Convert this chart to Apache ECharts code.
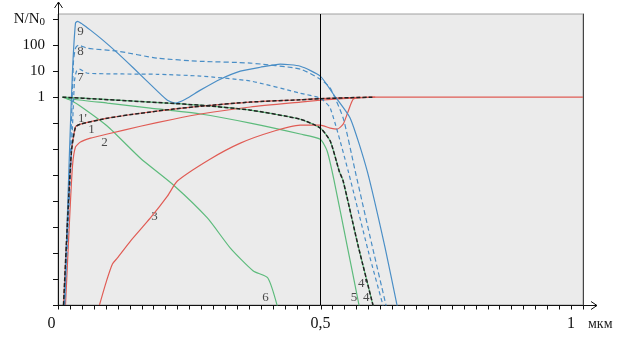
<!DOCTYPE html>
<html>
<head>
<meta charset="utf-8">
<script src="https://cdn.jsdelivr.net/npm/echarts@6/dist/echarts.min.js"></script>
<style>
  html, body { margin: 0; padding: 0; background: #fff; }
  #chart { width: 624px; height: 342px; }
</style>
</head>
<body>
<div id="chart"></div>
<script>
// x - глубина, мкм ; lg - log10(N/N0)
const x9  = [0.0124, 0.0219, 0.0276, 0.0333, 0.0371, 0.0466, 0.0618, 0.0809, 0.1094, 0.1437, 0.1893, 0.2084, 0.2236, 0.2426, 0.2712, 0.3092, 0.3473, 0.3854, 0.4234, 0.4615, 0.4995, 0.5243, 0.5566, 0.5890, 0.6232, 0.6461];
const lg9 = [-8, -2.08, 1.0, 2.85, 2.92, 2.81, 2.58, 2.27, 1.77, 1.12, 0.23, -0.12, -0.23, -0.08, 0.27, 0.69, 1.0, 1.15, 1.27, 1.19, 0.81, 0.12, -0.81, -2.85, -5.81, -8.04];

const x8  = [0.0124, 0.0238, 0.0295, 0.0333, 0.039, 0.0561, 0.1132, 0.1893, 0.2712, 0.3663, 0.4615, 0.4995, 0.5185, 0.5432, 0.5661, 0.5985, 0.6251];
const lg8 = [-8, -2.08, 1.38, 1.88, 2.0, 1.88, 1.77, 1.5, 1.38, 1.31, 1.08, 0.69, 0.35, -0.81, -2.85, -5.73, -8.04];

const x7  = [0.0124, 0.0257, 0.0314, 0.0352, 0.0409, 0.0561, 0.1893, 0.2712, 0.3663, 0.4615, 0.4995, 0.5185, 0.5528, 0.5909, 0.6194];
const lg7 = [-8, -2.08, 0.62, 1.0, 1.08, 0.92, 0.88, 0.81, 0.62, 0.15, -0.04, -0.42, -2.85, -5.92, -8.04];

const x1  = [0.0105, 0.0181, 0.0257, 0.0333, 0.0428, 0.0942, 0.157, 0.2198, 0.2712, 0.3663, 0.4615, 0.4995, 0.5566, 0.6004, 1.0];
const lg1 = [-8, -4.77, -2.08, -1.15, -1.04, -0.81, -0.62, -0.46, -0.35, -0.19, -0.1, -0.06, -0.02, 0, 0];

const x2  = [0.0143, 0.0219, 0.0276, 0.0333, 0.0428, 0.0618, 0.0942, 0.157, 0.2198, 0.2712, 0.3663, 0.4615, 0.4995, 0.5566, 0.6042];
const lg2 = [-8, -4.77, -2.65, -1.92, -1.73, -1.58, -1.42, -1.12, -0.85, -0.65, -0.38, -0.19, -0.12, -0.04, 0];

const x3  = [0.079, 0.0923, 0.1037, 0.1132, 0.138, 0.176, 0.2084, 0.2274, 0.2902, 0.3473, 0.4044, 0.4615, 0.4995, 0.5185, 0.5318, 0.5432, 0.5528, 0.5623, 0.5756];
const lg3 = [-8, -7.08, -6.42, -6.19, -5.54, -4.65, -3.81, -3.23, -2.38, -1.77, -1.35, -1.08, -1.08, -1.19, -1.23, -1.04, -0.54, -0.08, 0];

const x4  = [0.0086, 0.0809, 0.2084, 0.2712, 0.3663, 0.4615, 0.4995, 0.5185, 0.5357, 0.5432, 0.5718, 0.6004];
const lg4 = [0, -0.08, -0.23, -0.31, -0.5, -0.85, -1.19, -1.69, -2.85, -3.23, -5.73, -8.04];

const x5  = [0.0086, 0.0295, 0.0942, 0.176, 0.2712, 0.3663, 0.4615, 0.4995, 0.5128, 0.5261, 0.5509, 0.5737];
const lg5 = [0, -0.08, -0.23, -0.42, -0.65, -1.0, -1.42, -1.62, -2.08, -3.23, -5.73, -8.04];

const x6  = [0.0086, 0.0238, 0.0428, 0.0942, 0.157, 0.2198, 0.2845, 0.3283, 0.372, 0.3997, 0.4177];
const lg6 = [0, -0.12, -0.35, -1.12, -2.35, -3.38, -4.65, -5.81, -6.69, -6.96, -8.04];

// подписи кривых
const labelText = ['9', '8', '7', "1'", '1', '2', '3', '6', '5', '4', "4'"];
const labelX    = [0.0428, 0.0428, 0.0428, 0.0466, 0.0637, 0.0885, 0.1836, 0.395, 0.564, 0.587, 0.580];
const labelLg   = [2.54, 1.77, 0.77, -0.81, -1.23, -1.73, -4.58, -7.73, -7.73, -7.73, -7.19];

const xTicks  = Array.from({ length: 45 }, (_, i) => i / 44);
const yTicks  = [-8, -7, -6, -5, -4, -3, -2, -1, 0, 1, 2, 3];
const yLabels = [0, 1, 2, 3];

const BLUE = '#4a8ec6';
const RED = '#e05c55';
const GREEN = '#5dbb7c';
const AXIS = '#111';
const SERIF = '"Liberation Serif", "DejaVu Serif", serif';

function pairs(xs, ys) {
  return xs.map((x, i) => [x, ys[i]]);
}

function curve(xs, ys, color, type, width) {
  return {
    type: 'line',
    data: pairs(xs, ys),
    showSymbol: false,
    smooth: 0.2,
    silent: true,
    lineStyle: { color: color, width: width || 1.2, type: type || 'solid' }
  };
}

const series = [
  curve(x6, lg6, GREEN),
  curve(x5, lg5, GREEN),
  curve(x4, lg4, GREEN),
  curve(x3, lg3, RED),
  curve(x2, lg2, RED),
  curve(x1, lg1, RED),
  curve(x7, lg7, BLUE, [4, 3]),
  curve(x8, lg8, BLUE, [5, 3]),
  curve(x9, lg9, BLUE),
  curve(x1.slice(0, 14), lg1.slice(0, 14), '#222', [4, 2], 1.5),
  curve(x4, lg4, '#222', [4, 2], 1.5),
  {
    type: 'scatter',
    symbolSize: 0,
    silent: true,
    data: labelText.map((t, i) => ({ name: t, value: [labelX[i], labelLg[i]] })),
    label: {
      show: true,
      position: 'inside',
      formatter: '{b}',
      color: '#222',
      fontSize: 13,
      fontFamily: SERIF
    },
    markLine: {
      silent: true,
      symbol: 'none',
      label: { show: false },
      lineStyle: { color: '#000', width: 1, type: 'solid' },
      data: [{ xAxis: 0.5 }]
    }
  }
];

const chart = echarts.init(document.getElementById('chart'));
chart.setOption({
  animation: false,
  backgroundColor: '#fff',
  grid: {
    left: 58, right: 41, top: 14, bottom: 37,
    show: true,
    backgroundColor: '#ebebeb',
    borderColor: '#a0a0a0',
    borderWidth: 1
  },
  xAxis: {
    type: 'value',
    min: 0, max: 1, interval: 0.5,
    name: 'мкм',
    nameLocation: 'end',
    nameGap: 5,
    nameTextStyle: {
      fontSize: 14, fontFamily: SERIF, color: '#222',
      verticalAlign: 'top', padding: [12, 0, 0, 0]
    },
    axisLine: { onZero: false, lineStyle: { color: AXIS, width: 1 } },
    // штрихи оси X рисуются ниже, по точкам самой оси
    axisTick: { show: false },
    splitLine: { show: false },
    axisLabel: {
      margin: 11,
      formatter: v => v === 0 ? '{l|0}' : (v === 1 ? '{r|1}' : '{m|0,5}'),
      rich: {
        l: { fontSize: 16, fontFamily: SERIF, color: AXIS, padding: [0, 13, 0, 0] },
        m: { fontSize: 16, fontFamily: SERIF, color: AXIS },
        r: { fontSize: 16, fontFamily: SERIF, color: AXIS, padding: [0, 24, 0, 0] }
      }
    }
  },
  yAxis: [{
    type: 'value',
    min: -8, max: 3.2, interval: 1,
    axisLine: { show: true, onZero: false, lineStyle: { color: AXIS, width: 1 } },
    axisTick: { show: true, length: 5, customValues: yTicks, lineStyle: { color: AXIS } },
    splitLine: { show: false },
    axisLabel: {
      margin: 13,
      customValues: yLabels,
      formatter: v => v === 3 ? '{t|N/N}{s|0}' : '{t|' + Math.round(Math.pow(10, v)) + '}',
      rich: {
        t: { fontSize: 15, fontFamily: SERIF, color: AXIS },
        s: { fontSize: 11, fontFamily: SERIF, color: AXIS, padding: [5, 0, 0, 0] }
      }
    }
  }, {
    type: 'value',
    position: 'right',
    min: -8, max: 3.2,
    axisLine: { show: true, onZero: false, lineStyle: { color: '#444', width: 1 } },
    axisTick: { show: false },
    axisLabel: { show: false },
    splitLine: { show: false }
  }],
  series: series
});

// стрелки на концах осей и штрихи оси X (от точек, которые дают сами оси)
const xEnd = chart.convertToPixel({ gridIndex: 0 }, [1, -8]);
const yEnd = chart.convertToPixel({ gridIndex: 0 }, [0, 3.2]);
const ex = Math.round(xEnd[0]), ey = Math.round(xEnd[1]) + 0.5;
const yx = Math.round(yEnd[0]) + 0.5, yy = Math.round(yEnd[1]);
const lineStyle = { stroke: AXIS, lineWidth: 1, fill: null };

const tickLines = xTicks.map(v => {
  const p = chart.convertToPixel({ gridIndex: 0 }, [v, -8]);
  const tx = Math.round(p[0]) + 0.5;
  return { type: 'line', silent: true, shape: { x1: tx, y1: ey, x2: tx, y2: ey + 4 }, style: lineStyle };
});

chart.setOption({
  graphic: tickLines.concat([
    { type: 'polyline', silent: true, shape: { points: [[ex, ey], [ex + 14, ey]] }, style: lineStyle },
    { type: 'polyline', silent: true, shape: { points: [[ex + 8, ey - 4], [ex + 14, ey], [ex + 8, ey + 4]] }, style: lineStyle },
    { type: 'polyline', silent: true, shape: { points: [[yx, yy], [yx, yy - 12]] }, style: lineStyle },
    { type: 'polyline', silent: true, shape: { points: [[yx - 4, yy - 6], [yx, yy - 12], [yx + 4, yy - 6]] }, style: lineStyle }
  ])
});
</script>
</body>
</html>
